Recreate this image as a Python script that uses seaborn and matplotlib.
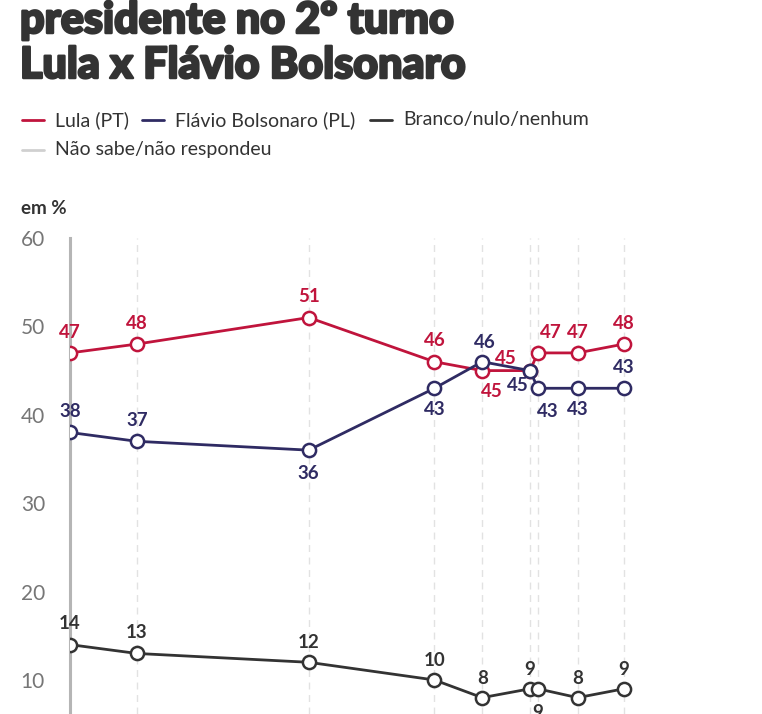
import matplotlib
matplotlib.use("Agg")
import matplotlib.pyplot as plt
import matplotlib.patheffects as pe
from matplotlib.lines import Line2D
import seaborn as sns
import pandas as pd

# ---------------- data ----------------
dates = ["2025-04-01", "2025-05-13", "2025-08-29", "2025-11-16", "2025-12-16",
         "2026-01-15", "2026-01-20", "2026-02-14", "2026-03-15"]
lula = [47, 48, 51, 46, 45, 45, 47, 47, 48]
flavio = [38, 37, 36, 43, 46, 45, 43, 43, 43]
branco = [14, 13, 12, 10, 8, 9, 9, 8, 9]
series_names = ["Lula (PT)", "Flávio Bolsonaro (PL)", "Branco/nulo/nenhum",
                "Não sabe/não respondeu"]
yticks = [10, 20, 30, 40, 50, 60]
title_lines = ["presidente no 2º turno", "Lula x Flávio Bolsonaro"]
unit_label = "em %"

# ---------------- style ----------------
colors = {"Lula (PT)": "#C0143C", "Flávio Bolsonaro (PL)": "#2F2B63",
          "Branco/nulo/nenhum": "#333333", "Não sabe/não respondeu": "#D0D0D0"}
# label offsets (points) per series point
off_lula = [(0, 15), (0, 15), (0, 15), (0, 15), (7, -15), (-17, 9), (9, 15), (0, 15), (0, 15)]
off_flav = [(0, 15), (0, 15), (0, -17), (0, -15), (2, 14), (-9, -11), (7, -17), (0, -15), (0, 15)]
off_bran = [(0, 15), (0, 15), (0, 14), (0, 14), (0, 14), (0, 14), (0, -17), (0, 14), (0, 14)]

sns.set_theme(style="white")
plt.rcParams["font.family"] = ["Lato", "DejaVu Sans"]

W, H, DPI = 762, 714, 100
fig = plt.figure(figsize=(W / DPI, H / DPI), dpi=DPI)
fig.patch.set_facecolor("white")

x0, x_top = 70, 238
ax = fig.add_axes([x0 / W, 0, (705 - x0) / W, 1 - x_top / H])

dt = pd.to_datetime(dates)
df = pd.DataFrame({
    "data": list(dt) * 3,
    "valor": lula + flavio + branco,
    "serie": [series_names[0]] * len(dt) + [series_names[1]] * len(dt) + [series_names[2]] * len(dt),
})

# vertical dashed guides at each survey date
for i, d in enumerate(dt):
    if i == 0:
        continue
    ax.axvline(d, color="#E2E2E2", lw=1, ls=(0, (5, 4)), zorder=0)

for name in series_names[:3]:
    sub = df[df["serie"] == name]
    sns.lineplot(data=sub, x="data", y="valor", ax=ax, color=colors[name],
                 lw=2.0, marker="o", markersize=9.5, markerfacecolor="white",
                 markeredgecolor=colors[name], markeredgewidth=1.8,
                 legend=False, zorder=3)

for vals, offs, name in [(lula, off_lula, series_names[0]),
                         (flavio, off_flav, series_names[1]),
                         (branco, off_bran, series_names[2])]:
    for d, v, (dx, dy) in zip(dt, vals, offs):
        ax.annotate(str(v), (d, v), xytext=(dx, dy), textcoords="offset points",
                    ha="center", va="center", fontsize=13.5, fontweight="bold",
                    color=colors[name], zorder=4)

ax.set_ylim(6.15, 60)
ax.set_xlim(dt[0], pd.Timestamp("2026-05-05"))
ax.set_yticks(yticks)
ax.set_yticklabels([str(t) for t in yticks], fontsize=15, color="#767676",
                   fontweight="normal")
ax.tick_params(axis="y", length=0, pad=18)
ax.set_xticks([])
ax.set_xlabel("")
ax.set_ylabel("")
for s in ["top", "right", "bottom"]:
    ax.spines[s].set_visible(False)
ax.spines["left"].set_color("#B5B5B5")
ax.spines["left"].set_linewidth(2.2)
ax.grid(False)

# ---------------- title / legend ----------------
stroke = [pe.withStroke(linewidth=1.8, foreground="#333333")]
fig.text(20 / W, 1 - 33 / H, title_lines[0], fontsize=31, fontweight="black",
         color="#333333", ha="left", va="baseline", path_effects=stroke)
fig.text(20 / W, 1 - 78 / H, title_lines[1], fontsize=31, fontweight="black",
         color="#333333", ha="left", va="baseline", path_effects=stroke)

leg_items = [(22, 120, series_names[0]), (142, 120, series_names[1]),
             (370, 120, series_names[2]), (22, 150, series_names[3])]
for lx, ly, name in leg_items:
    fig.add_artist(Line2D([lx / W, (lx + 22) / W], [1 - ly / H, 1 - ly / H],
                          color=colors[name], lw=2, transform=fig.transFigure))
    fig.text((lx + 33) / W, 1 - ly / H, name, fontsize=14, color="#333333",
             ha="left", va="center")

fig.text(21 / W, 1 - 208 / H, unit_label, fontsize=13.5, fontweight="bold",
         color="#333333", ha="left", va="center")

fig.savefig("out.png", dpi=DPI, facecolor="white")
